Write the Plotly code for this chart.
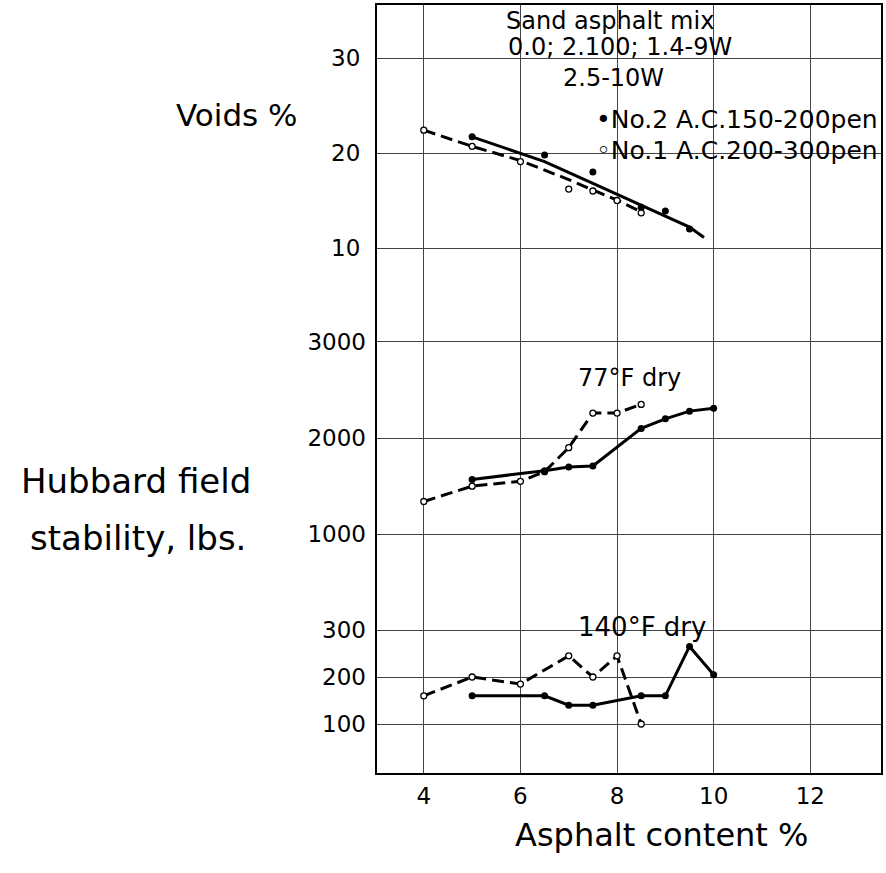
import plotly.graph_objects as go

# ---------------- data ----------------
asphalt_ticks = [4, 6, 8, 10, 12]
voids_ticks = [10, 20, 30]
stab77_ticks = [1000, 2000, 3000]
stab140_ticks = [100, 200, 300]

# Voids %  (No.2 = filled / solid, No.1 = open / dashed)
voids_no2_x = [5, 6.5, 7.5, 8.5, 9, 9.5]
voids_no2_y = [21.7, 19.8, 18.0, 14.3, 13.9, 12.0]
voids_no2_fit_x = [5, 6.5, 7.5, 8.5, 9.5, 9.8]
voids_no2_fit_y = [21.7, 19.1, 16.8, 14.5, 12.2, 11.1]
voids_no1_x = [4, 5, 6, 7, 7.5, 8, 8.5]
voids_no1_y = [22.4, 20.7, 19.1, 16.2, 16.0, 15.0, 13.7]
voids_no1_fit_x = [4, 5, 6, 7, 7.5, 8, 8.5]
voids_no1_fit_y = [22.4, 20.7, 19.2, 17.2, 16.1, 15.05, 13.8]

# Hubbard field stability, 77 F dry
stab77_no2_x = [5, 6.5, 7, 7.5, 8.5, 9, 9.5, 10]
stab77_no2_y = [1570, 1660, 1700, 1710, 2100, 2200, 2280, 2310]
stab77_no1_x = [4, 5, 6, 6.5, 7, 7.5, 8, 8.5]
stab77_no1_y = [1340, 1500, 1550, 1650, 1900, 2260, 2260, 2350]

# Hubbard field stability, 140 F dry
stab140_no2_x = [5, 6.5, 7, 7.5, 8.5, 9, 9.5, 10]
stab140_no2_y = [160, 160, 140, 140, 160, 160, 265, 205]
stab140_no1_x = [4, 5, 6, 7, 7.5, 8, 8.5]
stab140_no1_y = [160, 200, 185, 245, 200, 245, 100]

# ---------------- layout geometry ----------------
W, H = 886, 873
L, R, T, B = 377, 883, 5, 773
FONT = "DejaVu Sans"


def px(xp):
    return (xp - L) / (R - L)


def py(yp):
    return (B - yp) / (B - T)


def axis_range(v1, p1, v2, p2, lo, hi):
    s = (v2 - v1) / (p1 - p2)
    return [v1 - (lo - p1) * s, v1 + (p1 - hi) * s]


x_rng = [4 - (424 - L) * 8 / (812 - 424), 4 + (R - 424) * 8 / (812 - 424)]
y1_rng = axis_range(10, 248, 30, 58, B, T)
y2_rng = axis_range(1000, 534.2, 3000, 341.9, B, T)
y3_rng = axis_range(100, 724, 300, 630, B, T)

SOLID = dict(color="black", width=3)
DASH = dict(color="black", width=3, dash="12px,6px")
FILLED = dict(symbol="circle", size=7, color="black")
OPEN = dict(symbol="circle", size=6, color="white", line=dict(color="black", width=1.3))

fig = go.Figure()

# voids
fig.add_trace(go.Scatter(x=voids_no1_fit_x, y=voids_no1_fit_y, mode="lines", line=DASH, yaxis="y"))
fig.add_trace(go.Scatter(x=voids_no2_fit_x, y=voids_no2_fit_y, mode="lines", line=SOLID, yaxis="y"))
fig.add_trace(go.Scatter(x=voids_no1_x, y=voids_no1_y, mode="markers", marker=OPEN, yaxis="y"))
fig.add_trace(go.Scatter(x=voids_no2_x, y=voids_no2_y, mode="markers", marker=FILLED, yaxis="y"))

# 77 F
fig.add_trace(go.Scatter(x=stab77_no1_x, y=stab77_no1_y, mode="lines+markers", line=DASH, marker=OPEN, yaxis="y2"))
fig.add_trace(go.Scatter(x=stab77_no2_x, y=stab77_no2_y, mode="lines+markers", line=SOLID, marker=FILLED, yaxis="y2"))

# 140 F
fig.add_trace(go.Scatter(x=stab140_no1_x, y=stab140_no1_y, mode="lines+markers", line=DASH, marker=OPEN, yaxis="y3"))
fig.add_trace(go.Scatter(x=stab140_no2_x, y=stab140_no2_y, mode="lines+markers", line=SOLID, marker=FILLED, yaxis="y3"))

GRID = "#444444"
tickfont = dict(family=FONT, size=23, color="black")
common_y = dict(showgrid=True, gridcolor=GRID, gridwidth=1, zeroline=False,
                tickfont=tickfont, ticks="", ticklabelstandoff=10, tickmode="array")

fig.update_layout(
    width=W, height=H,
    margin=dict(l=L, r=W - R, t=T, b=H - B),
    paper_bgcolor="white", plot_bgcolor="white",
    showlegend=False,
    hovermode=False,
    font=dict(family=FONT, color="black"),
    xaxis=dict(range=x_rng, tickmode="array", tickvals=asphalt_ticks,
               ticktext=[str(v) for v in asphalt_ticks],
               showgrid=True, gridcolor=GRID, gridwidth=1, zeroline=False,
               showline=True, linecolor="black", linewidth=2, mirror=True,
               ticks="", ticklabelstandoff=1, tickfont=tickfont),
    yaxis=dict(range=y1_rng, tickvals=voids_ticks, ticktext=[str(v) for v in voids_ticks],
               showline=True, linecolor="black", linewidth=2, mirror=True, **common_y),
    yaxis2=dict(range=y2_rng, tickvals=stab77_ticks, ticktext=[str(v) for v in stab77_ticks],
                overlaying="y", side="left", anchor="x", showline=False, **common_y),
    yaxis3=dict(range=y3_rng, tickvals=stab140_ticks, ticktext=[str(v) for v in stab140_ticks],
                overlaying="y", side="left", anchor="x", showline=False, **common_y),
)

# white masks hiding grid lines behind the printed labels
masks = [
    (487, 5, 755, 62),
    (530, 60, 695, 88),
    (755, 5, 881, 55),
    (700, 61, 881, 100),
    (572, 100, 881, 168),
    (567, 613, 713, 640),
]
for x0, y0, x1, y1 in masks:
    fig.add_shape(type="rect", xref="paper", yref="paper",
                  x0=px(x0), x1=px(x1), y0=py(y1), y1=py(y0),
                  fillcolor="white", line=dict(width=0), layer="between")


def note(text, xp, yp, size, anchor="center"):
    fig.add_annotation(text=text, xref="paper", yref="paper", x=px(xp), y=py(yp),
                       xanchor=anchor, yanchor="middle", showarrow=False,
                       font=dict(family=FONT, size=size, color="black"))


note("Sand asphalt mix", 611, 21, 24)
note("0.0; 2.100; 1.4-9W", 621, 47, 24)
note("2.5-10W", 614, 78, 24)
note("\u2022No.2 A.C.150-200pen", 882, 119, 25, "right")
note("\u25e6No.1 A.C.200-300pen", 882, 150, 25, "right")
note("77°F dry", 630, 378, 24)
note("140°F dry", 643, 627, 26)
note("Voids %", 236, 115, 31)
note("Hubbard field", 135, 481, 34)
note("stability, lbs.", 137, 538, 34)
note("Asphalt content %", 663, 835, 32)

fig.write_html("out.html", config={"displayModeBar": False},
               post_script="document.body.style.margin='0';document.body.style.overflow='hidden';")
